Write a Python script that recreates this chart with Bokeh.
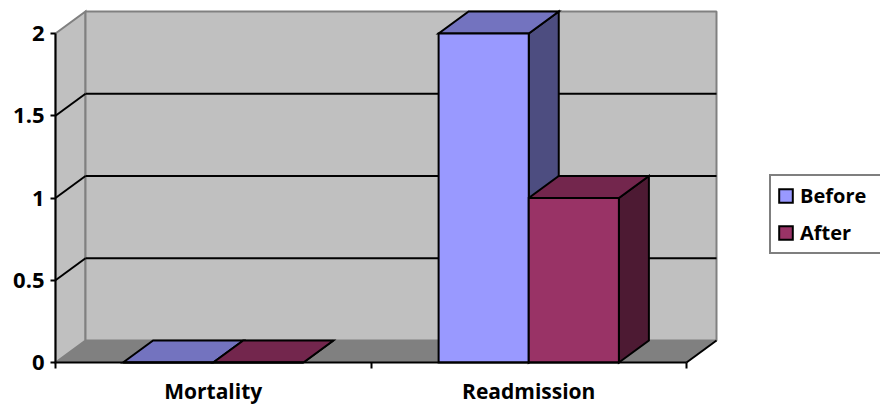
from bokeh.plotting import figure
from bokeh.models import Range1d, LinearAxis, FixedTicker, Legend, LegendItem
from bokeh.embed import file_html
from bokeh.resources import INLINE

# ---- data ----
categories = ["Mortality", "Readmission"]
series = ["Before", "After"]
before = [0, 2]
after = [0, 1]
values = [before, after]
y_ticks = [0, 0.5, 1, 1.5, 2]
y_tick_labels = ["0", "0.5", "1", "1.5", "2"]

# ---- style ----
front_colors = ["#9999FF", "#993366"]
top_colors = ["#7373BF", "#73264D"]
side_colors = ["#4D4D80", "#4D1A33"]
wall_color = "#C0C0C0"
floor_color = "#808080"
edge_gray = "#808080"
FONT = "Open Sans"

W, H = 880, 404
px_x = 315.5          # pixels per category
px_y = 164.5          # pixels per value unit
org_x = 55            # canvas x of category origin
org_y = 362           # canvas y (from top) of value 0
depth_x = 30 / px_x   # 3-D depth offset in data units
depth_y = 22 / px_y

n = len(categories)
vmax = y_ticks[-1]

p = figure(width=W, height=H,
           x_range=Range1d(-org_x / px_x, (W - org_x) / px_x),
           y_range=Range1d(-(H - org_y) / px_y, org_y / px_y),
           output_backend="svg", toolbar_location=None,
           x_axis_type=None, y_axis_type=None, min_border=0,
           outline_line_color=None, background_fill_color="white",
           border_fill_color="white")

# floor
p.patch([0, n, n + depth_x, depth_x], [0, 0, depth_y, depth_y],
        fill_color=floor_color, line_color=floor_color, line_width=1)
# side wall
p.patch([0, 0, depth_x, depth_x], [0, vmax, vmax + depth_y, depth_y],
        fill_color=wall_color, line_color=edge_gray, line_width=2, line_join="miter")
# back wall
p.quad(left=[depth_x], right=[n + depth_x], bottom=[depth_y], top=[vmax + depth_y],
       fill_color=wall_color, line_color=edge_gray, line_width=2)
# floor right edge
p.segment(x0=[n], y0=[0], x1=[n + depth_x], y1=[depth_y], line_color="black", line_width=2)

# gridlines on back wall and side wall
g = y_ticks[1:-1]
p.segment(x0=[depth_x] * len(g), y0=[v + depth_y for v in g],
          x1=[n + depth_x] * len(g), y1=[v + depth_y for v in g],
          line_color="black", line_width=2)
p.segment(x0=[0] * len(g), y0=g, x1=[depth_x] * len(g), y1=[v + depth_y for v in g],
          line_color="black", line_width=2)

# bars
gap = 1.5
bw = 1.0 / (len(series) + gap)
geo = []
for j, s in enumerate(series):
    xs = [i + gap / 2 * bw + j * bw for i in range(n)]
    geo.append((xs, values[j]))

for j in range(len(series)):
    xs, vs = geo[j]
    p.patches(xs=[[x + bw, x + bw + depth_x, x + bw + depth_x, x + bw] for x in xs],
              ys=[[0, depth_y, v + depth_y, v] for v in vs],
              fill_color=side_colors[j], line_color="black", line_width=2, line_join="miter")
for j in range(len(series)):
    xs, vs = geo[j]
    p.patches(xs=[[x, x + bw, x + bw + depth_x, x + depth_x] for x in xs],
              ys=[[v, v, v + depth_y, v + depth_y] for v in vs],
              fill_color=top_colors[j], line_color="black", line_width=2, line_join="miter")
fronts = []
for j in range(len(series)):
    xs, vs = geo[j]
    r = p.quad(left=xs, right=[x + bw for x in xs], bottom=[0] * n, top=vs,
               fill_color=front_colors[j], line_color="black", line_width=2, line_join="miter")
    fronts.append(r)

# axes
yaxis = LinearAxis(fixed_location=0, bounds=(0, vmax),
                   ticker=FixedTicker(ticks=y_ticks, minor_ticks=[]),
                   major_label_overrides=dict(zip(y_ticks, y_tick_labels)),
                   axis_line_color="black", axis_line_width=2,
                   major_tick_out=5, major_tick_in=0, major_tick_line_width=2,
                   minor_tick_line_color=None,
                   major_label_standoff=6,
                   major_label_text_font=FONT, major_label_text_font_style="bold",
                   major_label_text_font_size="22px", major_label_text_color="black")
p.add_layout(yaxis, "left")

label_pos = [i + 0.5 for i in range(n)]
xaxis = LinearAxis(fixed_location=0, bounds=(0, n),
                   ticker=FixedTicker(ticks=label_pos, minor_ticks=list(range(n + 1))),
                   major_label_overrides=dict(zip(label_pos, categories)),
                   axis_line_color="black", axis_line_width=2,
                   major_tick_out=6, major_tick_in=0, major_tick_line_color=None,
                   minor_tick_out=6, minor_tick_in=0, minor_tick_line_width=2,
                   minor_tick_line_color="black",
                   major_label_standoff=8,
                   major_label_text_font=FONT, major_label_text_font_style="bold",
                   major_label_text_font_size="21px", major_label_text_color="black")
p.add_layout(xaxis, "below")

legend = Legend(items=[LegendItem(label=s, renderers=[fronts[j]]) for j, s in enumerate(series)],
                location=(769, 150), margin=0, padding=6, spacing=10,
                glyph_width=17, glyph_height=17, label_standoff=6, label_width=100,
                label_text_font=FONT, label_text_font_style="bold",
                label_text_font_size="20px", label_text_color="black",
                border_line_color="black", border_line_width=2,
                background_fill_color="white", background_fill_alpha=1)
p.add_layout(legend)

open("out.html", "w").write(file_html(p, INLINE))
